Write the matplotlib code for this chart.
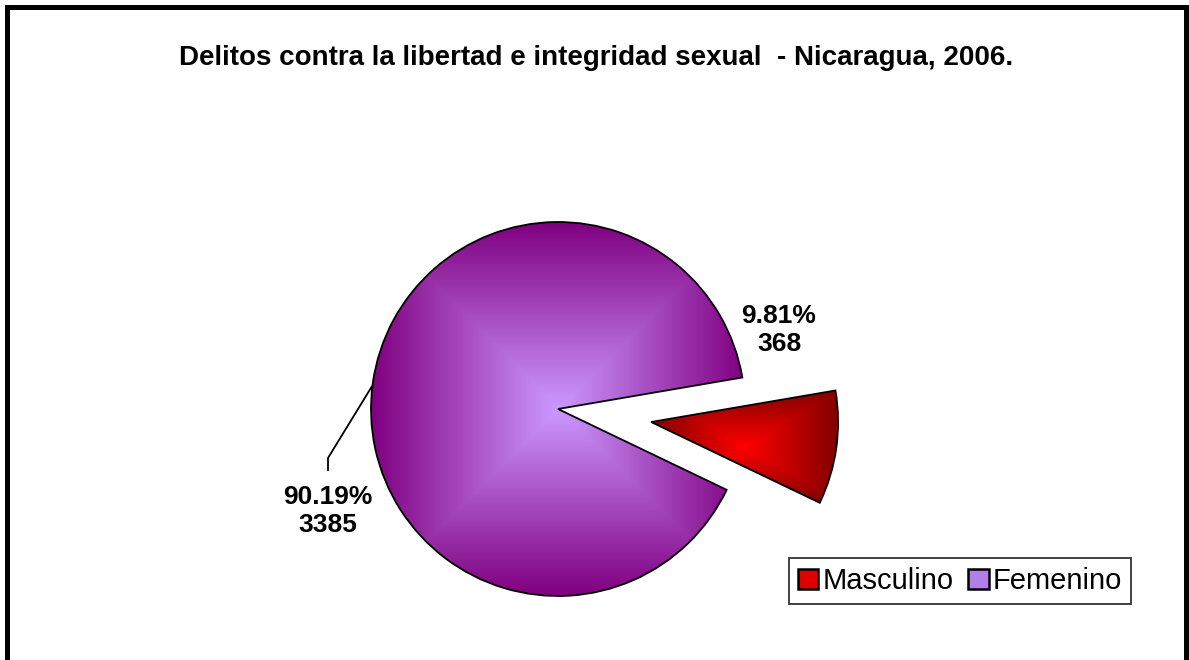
import numpy as np
import matplotlib
matplotlib.use("Agg")
import matplotlib.pyplot as plt
from matplotlib.colors import LinearSegmentedColormap
from matplotlib.patches import Rectangle

plt.rcParams["font.family"] = ["Liberation Sans", "DejaVu Sans"]

# ---- datos ----
title = "Delitos contra la libertad e integridad sexual  - Nicaragua, 2006."
labels = ["Masculino", "Femenino"]
counts = [368, 3385]

# colores (centro claro -> borde oscuro, como el degradado de Excel)
col_center = ["#ff0000", "#cc99ff"]
col_edge = ["#800000", "#800080"]

W, H = 1189, 660
fig = plt.figure(figsize=(W / 100, H / 100), dpi=100)
ax = fig.add_axes([0, 0, 1, 1])

total = sum(counts)
pcts = [c / total * 100 for c in counts]

cx, cy, r = 558, 251, 187
# explode en unidades de datos (pixeles aqui)
wedges, _ = ax.pie(counts, explode=[94, 0], startangle=-25.6, center=(cx, cy),
                   radius=r, frame=True,
                   wedgeprops=dict(edgecolor="black", linewidth=1.3))

# relleno con degradado rectangular "desde el centro"
for w, c0, c1 in zip(wedges, col_center, col_edge):
    w.set_facecolor("none")
    if w.theta2 - w.theta1 > 180:
        x0, x1 = w.center[0] - r, w.center[0] + r
        y0, y1 = w.center[1] - r, w.center[1] + r
    else:
        v = w.get_path().vertices
        x0, x1 = v[:, 0].min(), v[:, 0].max()
        y0, y1 = v[:, 1].min(), v[:, 1].max()
    u, vv = np.meshgrid(np.linspace(-1, 1, 300), np.linspace(-1, 1, 300))
    t = np.maximum(np.abs(u), np.abs(vv))
    cmap = LinearSegmentedColormap.from_list("g", [c0, c1])
    im = ax.imshow(t, cmap=cmap, extent=(x0, x1, y0, y1), origin="lower",
                   interpolation="bilinear", zorder=0.5, vmin=0, vmax=1)
    im.set_clip_path(w)
    w.set_zorder(1)

# etiquetas de datos
ax.text(779, 330, f"{pcts[0]:.2f}%\n{counts[0]}", ha="center", va="center",
        fontsize=19, fontweight="bold", linespacing=1.2)
ax.text(328, 149, f"{pcts[1]:.2f}%\n{counts[1]}", ha="center", va="center",
        fontsize=19, fontweight="bold", linespacing=1.2)
ax.plot([371.7, 328, 328], [273.3, 202, 190], color="black", lw=1.3)

ax.text(596, 602, title, ha="center", va="center", fontsize=20, fontweight="bold")

ax.set_xlim(0, W)
ax.set_ylim(0, H)
ax.set_aspect("equal")
ax.axis("off")

# marco del grafico
fig.patches.append(Rectangle((6.5 / W, -0.1), (W - 9.5) / W, (H - 6.5) / H + 0.1,
                             transform=fig.transFigure, fill=False,
                             edgecolor="black", linewidth=3.6))

handles = [Rectangle((0, 0), 1, 1, facecolor=c, edgecolor="black", linewidth=1.8)
           for c in ["#e00000", "#b27fe6"]]
leg = fig.legend(handles, labels, loc="center", bbox_to_anchor=(960 / W, (H - 581) / H),
                 ncol=2, fontsize=21, frameon=True, fancybox=False, borderpad=0.3,
                 handlelength=0.7, handleheight=0.7, handletextpad=0.15,
                 columnspacing=0.5, borderaxespad=0)
leg.get_frame().set_edgecolor("black")
leg.get_frame().set_linewidth(1.3)

fig.savefig("out.png", dpi=100)
